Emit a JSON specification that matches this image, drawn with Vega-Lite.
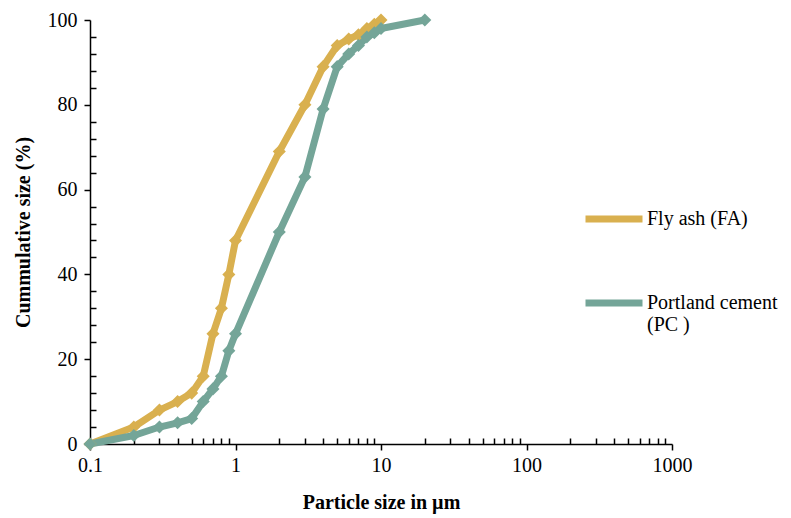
{
  "$schema": "https://vega.github.io/schema/vega-lite/v6.json",
  "width": 582,
  "height": 424,
  "autosize": {"type": "none"},
  "padding": {"left": 90, "top": 20, "right": 119, "bottom": 74},
  "background": "white",
  "config": {
    "view": {"stroke": null},
    "font": "Liberation Serif",
    "axis": {"labelFont": "Liberation Serif", "titleFont": "Liberation Serif", "labelColor": "black", "titleColor": "black", "domainColor": "black", "tickColor": "black", "grid": false}
  },
  "data": {
    "values": [
      {"size": 0.1, "cum": 0, "series": "Fly ash (FA)"},
      {"size": 0.2, "cum": 4, "series": "Fly ash (FA)"},
      {"size": 0.3, "cum": 8, "series": "Fly ash (FA)"},
      {"size": 0.4, "cum": 10, "series": "Fly ash (FA)"},
      {"size": 0.5, "cum": 12, "series": "Fly ash (FA)"},
      {"size": 0.6, "cum": 16, "series": "Fly ash (FA)"},
      {"size": 0.7, "cum": 26, "series": "Fly ash (FA)"},
      {"size": 0.8, "cum": 32, "series": "Fly ash (FA)"},
      {"size": 0.9, "cum": 40, "series": "Fly ash (FA)"},
      {"size": 1, "cum": 48, "series": "Fly ash (FA)"},
      {"size": 2, "cum": 69, "series": "Fly ash (FA)"},
      {"size": 3, "cum": 80, "series": "Fly ash (FA)"},
      {"size": 4, "cum": 89, "series": "Fly ash (FA)"},
      {"size": 5, "cum": 94, "series": "Fly ash (FA)"},
      {"size": 6, "cum": 95.5, "series": "Fly ash (FA)"},
      {"size": 7, "cum": 96.5, "series": "Fly ash (FA)"},
      {"size": 8, "cum": 98, "series": "Fly ash (FA)"},
      {"size": 9, "cum": 99, "series": "Fly ash (FA)"},
      {"size": 10, "cum": 100, "series": "Fly ash (FA)"},
      {"size": 0.1, "cum": 0, "series": "Portland cement (PC )"},
      {"size": 0.2, "cum": 2, "series": "Portland cement (PC )"},
      {"size": 0.3, "cum": 4, "series": "Portland cement (PC )"},
      {"size": 0.4, "cum": 5, "series": "Portland cement (PC )"},
      {"size": 0.5, "cum": 6, "series": "Portland cement (PC )"},
      {"size": 0.6, "cum": 10, "series": "Portland cement (PC )"},
      {"size": 0.7, "cum": 13, "series": "Portland cement (PC )"},
      {"size": 0.8, "cum": 16, "series": "Portland cement (PC )"},
      {"size": 0.9, "cum": 22, "series": "Portland cement (PC )"},
      {"size": 1, "cum": 26, "series": "Portland cement (PC )"},
      {"size": 2, "cum": 50, "series": "Portland cement (PC )"},
      {"size": 3, "cum": 63, "series": "Portland cement (PC )"},
      {"size": 4, "cum": 79, "series": "Portland cement (PC )"},
      {"size": 5, "cum": 89, "series": "Portland cement (PC )"},
      {"size": 6, "cum": 92, "series": "Portland cement (PC )"},
      {"size": 7, "cum": 94, "series": "Portland cement (PC )"},
      {"size": 8, "cum": 96, "series": "Portland cement (PC )"},
      {"size": 9, "cum": 97, "series": "Portland cement (PC )"},
      {"size": 10, "cum": 98, "series": "Portland cement (PC )"},
      {"size": 20, "cum": 100, "series": "Portland cement (PC )"}
    ]
  },
  "layer": [
    {
      "mark": {"type": "line", "strokeWidth": 7, "strokeJoin": "round", "clip": false},
      "encoding": {
        "x": {"field": "size", "type": "quantitative",
          "scale": {"type": "log", "domain": [0.1, 1000], "nice": false},
          "axis": {"title": "Particle size in µm", "values": [0.1, 1, 10, 100, 1000], "labelExpr": "format(datum.value, '~g')",
            "labelFontSize": 20, "titleFontSize": 20, "titleFontWeight": "bold", "titlePadding": 17,
            "tickSize": 6, "tickWidth": 1.5, "domainWidth": 1.5, "labelPadding": 5, "labelFlush": false}},
        "y": {"field": "cum", "type": "quantitative",
          "scale": {"domain": [0, 100], "nice": false},
          "axis": {"title": "Cummulative size (%)", "values": [0, 20, 40, 60, 80, 100],
            "labelFontSize": 20, "titleFontSize": 20, "titleFontWeight": "bold", "titlePadding": 14,
            "tickSize": 6, "tickWidth": 1.5, "domainWidth": 1.5, "labelPadding": 7}},
        "color": {"field": "series", "type": "nominal",
          "scale": {"domain": ["Fly ash (FA)", "Portland cement (PC )"], "range": ["#D9B04F", "#74A598"]},
          "legend": {"title": null, "orient": "none", "legendX": 492, "legendY": 167, "direction": "vertical",
            "symbolType": "stroke", "symbolSize": 3249, "symbolStrokeWidth": 7, "rowPadding": 38,
            "labelFont": "Liberation Serif", "labelFontSize": 20, "labelColor": "black", "labelLimit": 300, "labelOffset": 1,
            "labelExpr": "datum.label == 'Portland cement (PC )' ? [' Portland cement', '(PC )'] : datum.label"}}
      }
    },
    {
      "mark": {"type": "point", "shape": "diamond", "filled": true, "size": 170, "opacity": 1, "clip": false},
      "encoding": {
        "x": {"field": "size", "type": "quantitative",
          "axis": {"title": null, "values": [0.2,0.3,0.4,0.5,0.6,0.7,0.8,0.9,2,3,4,5,6,7,8,9,20,30,40,50,60,70,80,90,200,300,400,500,600,700,800,900],
            "labels": false, "domain": false, "tickSize": -6, "tickWidth": 1.5, "orient": "bottom"}},
        "y": {"field": "cum", "type": "quantitative",
          "axis": {"title": null, "values": [4,8,12,16,24,28,32,36,44,48,52,56,64,68,72,76,84,88,92,96],
            "labels": false, "domain": false, "tickSize": -6, "tickWidth": 1.5, "orient": "left"}},
        "color": {"field": "series", "type": "nominal", "legend": null}
      }
    }
  ],
  "resolve": {"axis": {"x": "independent", "y": "independent"}}
}
